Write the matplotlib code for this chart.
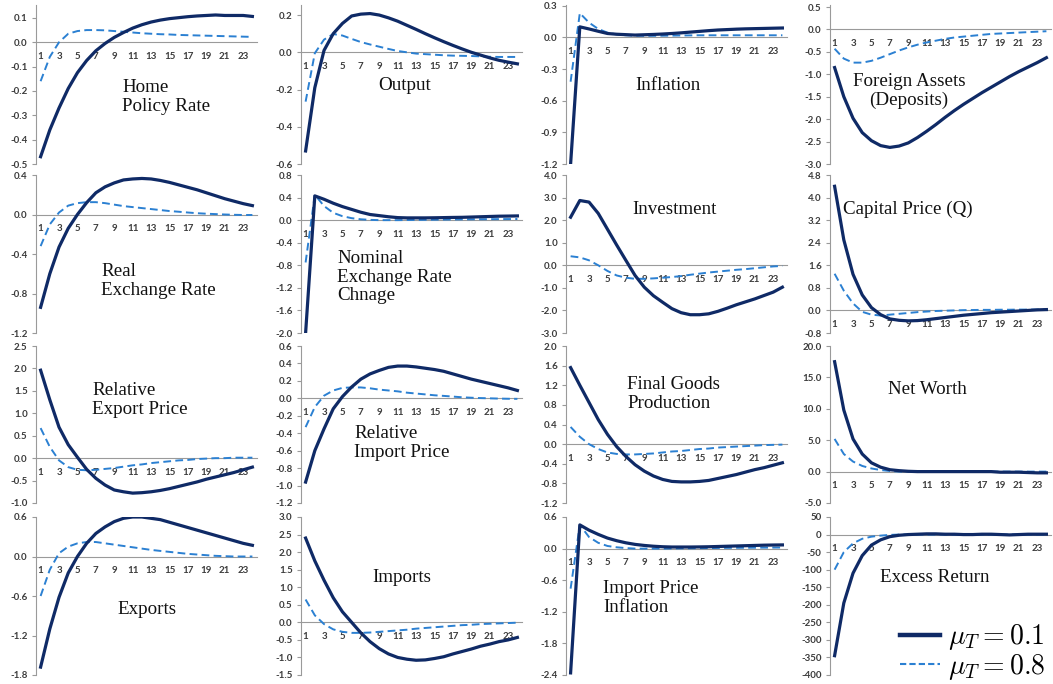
import numpy as np
import matplotlib
matplotlib.use("Agg")
import matplotlib.pyplot as plt
from matplotlib.lines import Line2D
from matplotlib.ticker import FuncFormatter

plt.rcParams['mathtext.fontset'] = 'cm'

# impulse responses, 24 quarters, mu_T = 0.1 (solid) and mu_T = 0.8 (dashed)
periods = np.arange(1, 25)
tick_periods = list(range(1, 24, 2))

home_rate_01 = [-0.47, -0.36, -0.27, -0.19, -0.125, -0.075, -0.035, -0.005, 0.02, 0.04, 0.058, 0.072,
                0.083, 0.091, 0.097, 0.101, 0.105, 0.108, 0.110, 0.112, 0.110, 0.110, 0.110, 0.106]
home_rate_08 = [-0.16, -0.06, 0.0, 0.035, 0.046, 0.05, 0.05, 0.049, 0.046, 0.043, 0.040, 0.037,
                0.035, 0.033, 0.032, 0.030, 0.029, 0.028, 0.027, 0.026, 0.025, 0.024, 0.023, 0.022]

output_01 = [-0.53, -0.19, 0.01, 0.10, 0.155, 0.195, 0.205, 0.208, 0.20, 0.185, 0.167, 0.145,
             0.123, 0.10, 0.078, 0.057, 0.037, 0.018, 0.0, -0.015, -0.03, -0.043, -0.053, -0.062]
output_08 = [-0.265, -0.005, 0.068, 0.098, 0.09, 0.072, 0.055, 0.042, 0.03, 0.018, 0.007, 0.0,
             -0.007, -0.01, -0.013, -0.016, -0.018, -0.019, -0.02, -0.022, -0.024, -0.025, -0.025, -0.025]

inflation_01 = [-1.2, 0.10, 0.08, 0.058, 0.037, 0.03, 0.026, 0.022, 0.025, 0.028, 0.032, 0.037,
                0.043, 0.05, 0.057, 0.064, 0.07, 0.074, 0.078, 0.081, 0.083, 0.085, 0.087, 0.089]
inflation_08 = [-0.42, 0.23, 0.14, 0.08, 0.045, 0.028, 0.02, 0.016, 0.015, 0.015, 0.016, 0.017,
                0.018, 0.019, 0.02, 0.02, 0.02, 0.02, 0.02, 0.02, 0.02, 0.02, 0.02, 0.02]

foreign_assets_01 = [-0.85, -1.5, -1.98, -2.3, -2.48, -2.59, -2.63, -2.6, -2.53, -2.41, -2.27, -2.12,
                     -1.96, -1.81, -1.67, -1.54, -1.41, -1.29, -1.17, -1.05, -0.94, -0.84, -0.74, -0.63]
foreign_assets_08 = [-0.43, -0.65, -0.74, -0.74, -0.7, -0.63, -0.55, -0.47, -0.4, -0.34, -0.29, -0.25,
                     -0.21, -0.18, -0.16, -0.14, -0.12, -0.1, -0.09, -0.08, -0.07, -0.06, -0.05, -0.04]

real_fx_01 = [-0.94, -0.6, -0.33, -0.14, 0.0, 0.12, 0.22, 0.28, 0.32, 0.35, 0.36, 0.365,
              0.36, 0.345, 0.325, 0.30, 0.275, 0.25, 0.22, 0.19, 0.16, 0.135, 0.11, 0.09]
real_fx_08 = [-0.32, -0.1, 0.02, 0.09, 0.115, 0.125, 0.125, 0.115, 0.1, 0.085, 0.075, 0.065,
              0.055, 0.045, 0.035, 0.028, 0.02, 0.013, 0.008, 0.004, 0.0, -0.003, -0.005, -0.005]

nominal_fx_01 = [-2.0, 0.43, 0.37, 0.3, 0.24, 0.19, 0.14, 0.1, 0.08, 0.06, 0.045, 0.04,
                 0.04, 0.04, 0.042, 0.045, 0.048, 0.05, 0.055, 0.06, 0.065, 0.07, 0.072, 0.075]
nominal_fx_08 = [-0.75, 0.45, 0.25, 0.13, 0.07, 0.035, 0.015, 0.005, 0.0, 0.0, 0.0, 0.002,
                 0.004, 0.006, 0.008, 0.01, 0.012, 0.014, 0.015, 0.016, 0.017, 0.018, 0.019, 0.02]

investment_01 = [2.13, 2.87, 2.8, 2.3, 1.6, 0.9, 0.22, -0.45, -0.97, -1.35, -1.64, -1.92,
                 -2.1, -2.19, -2.19, -2.15, -2.04, -1.9, -1.75, -1.62, -1.49, -1.34, -1.19, -0.97]
investment_08 = [0.4, 0.35, 0.22, 0.0, -0.25, -0.45, -0.55, -0.6, -0.6, -0.58, -0.55, -0.52,
                 -0.48, -0.42, -0.37, -0.32, -0.28, -0.24, -0.2, -0.17, -0.13, -0.09, -0.05, -0.03]

capital_price_01 = [4.4, 2.5, 1.28, 0.55, 0.1, -0.15, -0.3, -0.35, -0.37, -0.36, -0.33, -0.29,
                    -0.25, -0.21, -0.17, -0.14, -0.11, -0.08, -0.06, -0.04, -0.02, 0.0, 0.02, 0.03]
capital_price_08 = [1.3, 0.7, 0.25, -0.05, -0.15, -0.18, -0.15, -0.12, -0.09, -0.06, -0.04, -0.02,
                    -0.01, 0.0, 0.01, 0.015, 0.02, 0.02, 0.025, 0.025, 0.03, 0.03, 0.03, 0.03]

export_price_01 = [1.96, 1.3, 0.69, 0.3, 0.02, -0.25, -0.45, -0.6, -0.71, -0.75, -0.78, -0.77,
                   -0.75, -0.72, -0.68, -0.63, -0.58, -0.53, -0.47, -0.42, -0.37, -0.32, -0.26, -0.2]
export_price_08 = [0.67, 0.25, -0.05, -0.2, -0.26, -0.27, -0.26, -0.24, -0.22, -0.19, -0.16, -0.14,
                   -0.11, -0.09, -0.07, -0.05, -0.04, -0.02, -0.01, 0.0, 0.0, 0.01, 0.01, 0.01]

import_price_01 = [-0.96, -0.6, -0.35, -0.12, 0.02, 0.13, 0.22, 0.28, 0.32, 0.355, 0.37, 0.37,
                   0.36, 0.345, 0.33, 0.31, 0.28, 0.25, 0.22, 0.195, 0.17, 0.145, 0.12, 0.09]
import_price_08 = [-0.33, -0.1, 0.03, 0.09, 0.12, 0.125, 0.125, 0.115, 0.1, 0.09, 0.08, 0.065,
                   0.055, 0.045, 0.035, 0.028, 0.02, 0.012, 0.007, 0.003, 0.0, -0.003, -0.005, -0.006]

final_goods_01 = [1.56, 1.2, 0.85, 0.5, 0.2, -0.05, -0.25, -0.42, -0.55, -0.65, -0.72, -0.76,
                  -0.77, -0.77, -0.76, -0.74, -0.7, -0.66, -0.62, -0.57, -0.52, -0.48, -0.43, -0.38]
final_goods_08 = [0.35, 0.15, 0.0, -0.1, -0.17, -0.2, -0.21, -0.21, -0.2, -0.19, -0.17, -0.15,
                  -0.14, -0.12, -0.1, -0.09, -0.07, -0.06, -0.05, -0.04, -0.03, -0.02, -0.015, -0.01]

net_worth_01 = [17.5, 9.8, 5.2, 2.8, 1.4, 0.7, 0.3, 0.15, 0.05, 0.0, 0.0, 0.0,
                0.0, 0.0, 0.0, 0.0, 0.0, 0.0, -0.1, -0.1, -0.1, -0.15, -0.2, -0.2]
net_worth_08 = [5.2, 2.8, 1.6, 0.9, 0.5, 0.25, 0.1, 0.0, 0.0, 0.0, 0.0, 0.0,
                0.0, 0.0, 0.0, 0.0, 0.0, 0.0, 0.0, 0.0, 0.0, 0.0, 0.0, 0.0]

exports_01 = [-1.68, -1.1, -0.62, -0.25, 0.0, 0.2, 0.35, 0.45, 0.53, 0.58, 0.6, 0.6,
              0.58, 0.56, 0.52, 0.48, 0.44, 0.4, 0.36, 0.32, 0.28, 0.24, 0.2, 0.17]
exports_08 = [-0.6, -0.2, 0.05, 0.15, 0.2, 0.22, 0.22, 0.2, 0.18, 0.16, 0.14, 0.12,
              0.1, 0.085, 0.07, 0.055, 0.04, 0.03, 0.02, 0.01, 0.005, 0.0, 0.0, 0.0]

imports_01 = [2.4, 1.75, 1.2, 0.7, 0.3, 0.0, -0.3, -0.55, -0.75, -0.9, -1.0, -1.05,
              -1.08, -1.07, -1.03, -0.98, -0.9, -0.83, -0.76, -0.68, -0.62, -0.55, -0.5, -0.43]
imports_08 = [0.65, 0.2, -0.05, -0.2, -0.27, -0.3, -0.3, -0.29, -0.27, -0.25, -0.23, -0.21,
              -0.18, -0.16, -0.14, -0.12, -0.1, -0.08, -0.07, -0.05, -0.04, -0.03, -0.02, -0.01]

import_infl_01 = [-2.36, 0.45, 0.35, 0.27, 0.2, 0.15, 0.11, 0.08, 0.06, 0.045, 0.035, 0.03,
                  0.03, 0.03, 0.032, 0.035, 0.04, 0.045, 0.05, 0.055, 0.06, 0.065, 0.068, 0.07]
import_infl_08 = [-0.76, 0.45, 0.22, 0.11, 0.05, 0.025, 0.01, 0.0, 0.0, 0.0, 0.0, 0.002,
                  0.004, 0.006, 0.008, 0.01, 0.012, 0.014, 0.015, 0.016, 0.017, 0.018, 0.019, 0.02]

excess_ret_01 = [-345, -195, -110, -60, -30, -15, -6, -2, 0, 1, 2, 2,
                 1, 1, 0, 0, 1, 1, 0, -1, 0, 1, 1, 1]
excess_ret_08 = [-100, -50, -25, -12, -6, -3, -1, 0, 0, 0, 0, 0,
                 0, 0, 0, 0, 0, 0, 0, 0, 0, 0, 0, 0]

titles = ["Home\nPolicy Rate", "Output", "Inflation", "Foreign Assets\n(Deposits)",
          "Real\nExchange Rate", "Nominal\nExchange Rate\nChnage", "Investment", "Capital Price (Q)",
          "Relative\nExport Price", "Relative\nImport Price", "Final Goods\nProduction", "Net Worth",
          "Exports", "Imports", "Import Price\nInflation", "Excess Return"]

series = [(home_rate_01, home_rate_08), (output_01, output_08),
          (inflation_01, inflation_08), (foreign_assets_01, foreign_assets_08),
          (real_fx_01, real_fx_08), (nominal_fx_01, nominal_fx_08),
          (investment_01, investment_08), (capital_price_01, capital_price_08),
          (export_price_01, export_price_08), (import_price_01, import_price_08),
          (final_goods_01, final_goods_08), (net_worth_01, net_worth_08),
          (exports_01, exports_08), (imports_01, imports_08),
          (import_infl_01, import_infl_08), (excess_ret_01, excess_ret_08)]

# y axis: (bottom, top tick, step, upper limit)
y_scales = [(-0.5, 0.1, 0.1, 0.153), (-0.6, 0.2, 0.2, 0.254), (-1.2, 0.3, 0.3, 0.307), (-3.0, 0.5, 0.5, 0.545),
            (-1.2, 0.4, 0.4, 0.4), (-2.0, 0.8, 0.4, 0.8), (-3.0, 4.0, 1.0, 4.0), (-0.8, 4.8, 0.8, 4.8),
            (-1.0, 2.5, 0.5, 2.5), (-1.2, 0.6, 0.2, 0.6), (-1.2, 2.0, 0.4, 2.0), (-5.0, 20.0, 5.0, 20.0),
            (-1.8, 0.6, 0.6, 0.6), (-1.5, 3.0, 0.5, 3.0), (-2.4, 0.6, 0.6, 0.6), (-400, 50, 50, 50)]

# label anchors in pixels: x, y centre, alignment
label_pos = [(122, 97, 'left'), (378, 85, 'left'), (635, 85, 'left'), (909, 91, 'center'),
             (101, 281, 'left'), (337, 277, 'left'), (632, 209, 'left'), (843, 209, 'left'),
             (92, 400, 'left'), (354, 443, 'left'), (627, 394, 'left'), (888, 390, 'left'),
             (117, 610, 'left'), (372, 578, 'left'), (603, 598, 'left'), (880, 577, 'left')]

W, H = 1053, 684
col_left = [36, 301, 566, 830]
row_top = [5, 175, 346, 517]
row_bot = [164, 333, 503, 675]
ax_w = 221

solid_c = '#0f2a66'
dash_c = '#2b80d2'
axis_c = '#9a9a9a'
tick_c = '#3c3c3c'

fig = plt.figure(figsize=(W / 100, H / 100), dpi=100)

for i in range(16):
    r, c = divmod(i, 4)
    left = col_left[c] / W
    bottom = 1 - row_bot[r] / H
    height = (row_bot[r] - row_top[r]) / H
    ax = fig.add_axes([left, bottom, ax_w / W, height])
    s01, s08 = series[i]
    ax.plot(periods, s08, color=dash_c, lw=1.4, dashes=(4, 2.2), zorder=3)
    ax.plot(periods, s01, color=solid_c, lw=2.3, zorder=4)

    lo, top, step, hi = y_scales[i]
    ax.set_xlim(0.5, 24.5)
    ax.set_ylim(lo, hi)
    ticks = np.round(np.arange(lo, top + step / 2, step), 6)
    ax.set_yticks(ticks)
    if i == 15:
        fmt = FuncFormatter(lambda v, p: '%d' % round(v))
    else:
        fmt = FuncFormatter(lambda v, p: ('%.1f' % v).replace('-0.0', '0.0'))
    ax.yaxis.set_major_formatter(fmt)
    ax.set_xticks(tick_periods)
    ax.set_xticklabels([str(t) for t in tick_periods])

    for side in ['top', 'right']:
        ax.spines[side].set_visible(False)
    ax.spines['bottom'].set_position(('data', 0))
    ax.spines['bottom'].set_color(axis_c)
    ax.spines['left'].set_color(axis_c)
    ax.spines['bottom'].set_linewidth(0.8)
    ax.spines['left'].set_linewidth(0.8)
    ax.tick_params(axis='y', length=3, width=0.8, color=axis_c, pad=3,
                   labelsize=7, labelcolor=tick_c)
    ax.tick_params(axis='x', length=0, pad=7, labelsize=7, labelcolor=tick_c)
    for lab in ax.get_xticklabels() + ax.get_yticklabels():
        lab.set_fontfamily('Lato')
        lab.set_fontweight('bold')
    ax.patch.set_alpha(0)

    x, y, ha = label_pos[i]
    fig.text(x / W, 1 - y / H, titles[i], ha=ha, va='center', multialignment=ha,
             fontsize=13.7, family='Liberation Serif', color='#111111', linespacing=1.12)

handles = [Line2D([], [], color=solid_c, lw=3.2),
           Line2D([], [], color=dash_c, lw=1.5, dashes=(3, 1.5))]
fig.legend(handles, [r'$\mu_T = 0.1$', r'$\mu_T = 0.8$'],
           loc='lower right', bbox_to_anchor=(0.997, -0.003), frameon=True,
           facecolor='white', edgecolor='white', framealpha=1,
           fontsize=20, handlelength=1.45, handletextpad=0.3, labelspacing=-0.02,
           borderpad=0.15, borderaxespad=0.0)

fig.savefig('out.png', dpi=100)
